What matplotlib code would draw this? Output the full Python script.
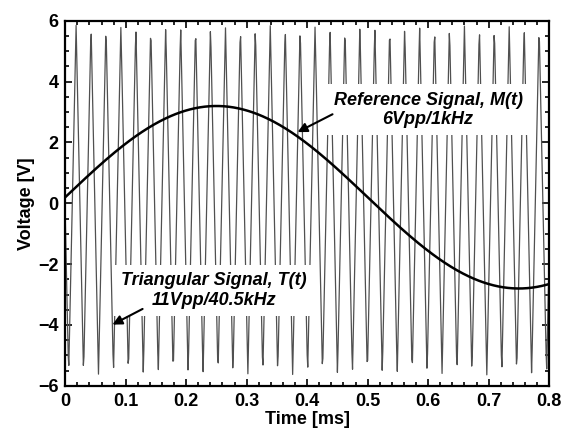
import numpy as np
import matplotlib
matplotlib.use('Agg')
import matplotlib.pyplot as plt
from matplotlib.ticker import MultipleLocator

plt.rcParams['font.family'] = ['Liberation Sans', 'DejaVu Sans']

tri_freq_khz = 40.5      # triangular carrier
tri_high = 5.85          # V, top vertex
tri_low = -5.65          # V, bottom vertex
tri_first_peak = 0.018   # ms
ref_freq_khz = 1.0       # reference sine
ref_amp = 3.0            # V
ref_offset = 0.2         # V
sample_step = 0.001      # ms, simulation step
t_end = 0.8              # ms

x_ticks = [0, 0.1, 0.2, 0.3, 0.4, 0.5, 0.6, 0.7, 0.8]
y_ticks = [-6, -4, -2, 0, 2, 4, 6]

# Sampled signals
t = np.arange(0, t_end + sample_step / 2, sample_step)
period = 1.0 / tri_freq_khz
phase = ((t - tri_first_peak) / period) % 1.0
tri = tri_low + (tri_high - tri_low) * np.abs(1 - 2 * phase)
t_ref = np.linspace(0, t_end, 400)
ref = ref_offset + ref_amp * np.sin(2 * np.pi * ref_freq_khz * t_ref)

fig = plt.figure(figsize=(5.72, 4.34), dpi=100)
ax = fig.add_axes([0.114, 0.111, 0.846, 0.841])
ax.plot(t, tri, color='#505050', lw=0.9)
ax.plot(t_ref, ref, color='black', lw=1.8)

ax.set_xlim(0, 0.8)
ax.set_ylim(-6, 6)
ax.set_xticks(x_ticks)
ax.set_xticklabels([str(v) for v in x_ticks])
ax.set_yticks(y_ticks)
ax.xaxis.set_minor_locator(MultipleLocator(0.02))
ax.yaxis.set_minor_locator(MultipleLocator(0.5))
ax.tick_params(which='both', direction='in', top=True, right=True, width=1.2)
ax.tick_params(which='major', length=5, labelsize=13, pad=5)
ax.tick_params(which='minor', length=3)
for lbl in ax.get_xticklabels() + ax.get_yticklabels():
    lbl.set_fontweight('bold')
for s in ax.spines.values():
    s.set_linewidth(1.6)

ax.set_xlabel('Time [ms]', fontsize=13, fontweight='bold', labelpad=1)
ax.set_ylabel('Voltage [V]', fontsize=13, fontweight='bold', labelpad=2)

box = dict(boxstyle='square,pad=0.4', fc='white', ec='none')
ax.text(0.6, 3.07, 'Reference Signal, M(t)\n6Vpp/1kHz', ha='center', va='center',
        fontsize=13, fontweight='bold', fontstyle='italic', bbox=box, zorder=5,
        linespacing=1.2)
ax.annotate('', xy=(0.38, 2.3), xytext=(0.446, 2.97),
            arrowprops=dict(arrowstyle='-|>', color='black', lw=1.5, mutation_scale=14),
            zorder=6)
ax.text(0.246, -2.87, 'Triangular Signal, T(t)\n11Vpp/40.5kHz', ha='center', va='center',
        fontsize=13, fontweight='bold', fontstyle='italic', bbox=box, zorder=5,
        linespacing=1.2)
ax.annotate('', xy=(0.074, -4.03), xytext=(0.132, -3.43),
            arrowprops=dict(arrowstyle='-|>', color='black', lw=1.5, mutation_scale=14),
            zorder=6)

fig.savefig('out.png', dpi=100)
